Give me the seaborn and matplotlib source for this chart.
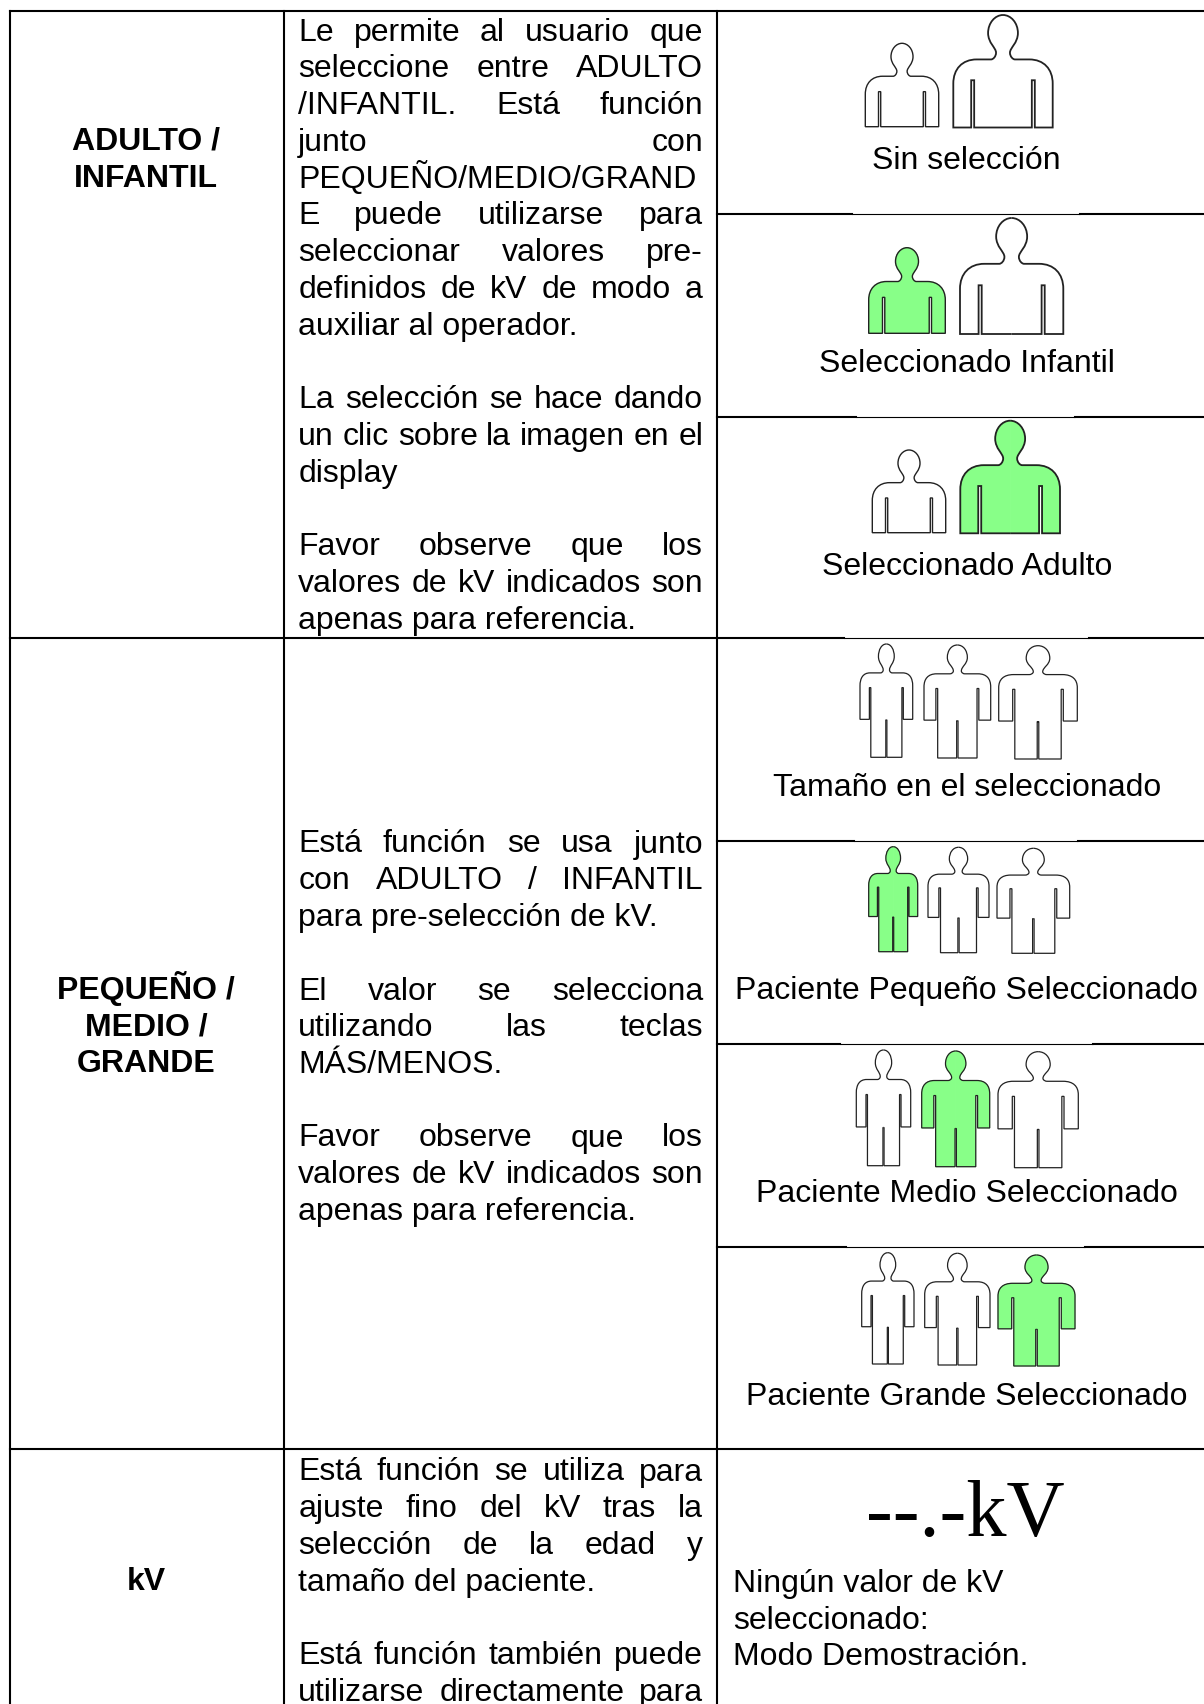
import matplotlib
matplotlib.use("Agg")
import matplotlib.pyplot as plt
import pandas as pd
import seaborn as sns
from matplotlib.patches import PathPatch
from matplotlib.path import Path

# table content
row_titles = [["ADULTO /", "INFANTIL"], ["PEQUEÑO /", "MEDIO /", "GRANDE"], ["kV"]]
row1_lines = ["Le permite al usuario que", "seleccione entre ADULTO", "/INFANTIL. Está función",
              "junto con", "PEQUEÑO/MEDIO/GRAND", "E puede utilizarse para",
              "seleccionar valores pre-", "definidos de kV de modo a", "auxiliar al operador.", None,
              "La selección se hace dando", "un clic sobre la imagen en el", "display", None,
              "Favor observe que los", "valores de kV indicados son", "apenas para referencia."]
row2_lines = ["Está función se usa junto", "con ADULTO / INFANTIL", "para pre-selección de kV.", None,
              "El valor se selecciona", "utilizando las teclas", "MÁS/MENOS.", None,
              "Favor observe que los", "valores de kV indicados son", "apenas para referencia."]
row3_lines = ["Está función se utiliza para", "ajuste fino del kV tras la", "selección de la edad y",
              "tamaño del paciente.", None, "Está función también puede", "utilizarse directamente para"]
not_justified = {"PEQUEÑO/MEDIO/GRAND", "auxiliar al operador.", "display", "apenas para referencia.",
                 "para pre-selección de kV.", "MÁS/MENOS.", "tamaño del paciente."}
captions = ["Sin selección", "Seleccionado Infantil", "Seleccionado Adulto", "Tamaño en el seleccionado",
            "Paciente Pequeño Seleccionado", "Paciente Medio Seleccionado", "Paciente Grande Seleccionado"]
caption_y = [169, 372, 575, 796, 999, 1202, 1405]
demo_lines = ["Ningún valor de kV", "seleccionado:", "Modo Demostración."]

# icon boxes: x0, y0, x1, y1, selected
bust_icons = [(865.3, 43.3, 938.7, 126.7, False), (953.3, 15, 1052.7, 127.5, False),
              (868.7, 247.7, 945.3, 333.3, True), (960, 218, 1063.3, 334, False),
              (872.3, 450, 945.7, 532.7, False), (960.3, 420.7, 1060, 533.3, True)]
body_icons = [(860, 644, 912.7, 757.3, False), (924, 645, 990.7, 758, False), (998.7, 645.7, 1077.3, 759, False),
              (868.7, 846.7, 917.7, 951.7, True), (928, 847.3, 989, 952.7, False), (997, 848.3, 1069.7, 953.3, False),
              (856.3, 1050, 910.7, 1165.7, False), (921.7, 1051, 989.7, 1166.7, True), (998, 1051.7, 1078.3, 1167.7, False),
              (861.7, 1252.7, 914, 1364, False), (924.7, 1253.3, 990, 1365, False), (998, 1255, 1075, 1366, True)]

# half outlines, head top down to the bottom centre
C4 = Path.CURVE4
L = Path.LINETO
bust_half = [((0.5, 0), Path.MOVETO),
             ((0.42, 0), C4), ((0.35, 0.07), C4), ((0.35, 0.16), C4),
             ((0.35, 0.25), C4), ((0.43, 0.29), C4), ((0.43, 0.335), C4),
             ((0.43, 0.37), C4), ((0.40, 0.395), C4), ((0.38, 0.395), C4),
             ((0.235, 0.395), L),
             ((0.09, 0.395), C4), ((0, 0.48), C4), ((0, 0.61), C4),
             ((0, 1), L), ((0.18, 1), L), ((0.18, 0.58), L), ((0.21, 0.58), L),
             ((0.21, 1), L), ((0.5, 1), L)]
body_half = [((0.5, 0), Path.MOVETO),
             ((0.41, 0), C4), ((0.35, 0.05), C4), ((0.35, 0.11), C4),
             ((0.35, 0.17), C4), ((0.44, 0.19), C4), ((0.44, 0.23), C4),
             ((0.44, 0.245), C4), ((0.41, 0.255), C4), ((0.39, 0.255), C4),
             ((0.19, 0.255), L),
             ((0.06, 0.255), C4), ((0, 0.30), C4), ((0, 0.37), C4),
             ((0, 0.665), L), ((0.178, 0.665), L), ((0.178, 0.385), L), ((0.205, 0.385), L),
             ((0.205, 1), L), ((0.49, 1), L), ((0.49, 0.67), L), ((0.5, 0.67), L)]

GREEN = "#88ff88"
W, H = 1204, 1704
FONT = "Liberation Sans"
SIZE = 23
LINE = 36.75
TEXT_L, TEXT_R = 298.3, 703

sns.set_theme(style="white")
plt.rcParams["font.family"] = [FONT, "DejaVu Sans"]

fig = plt.figure(figsize=(W / 100, H / 100), dpi=100)
ax = fig.add_axes([0, 0, 1, 1])

# table rules
thick = [(10, 11, 1204, 11), (10, 11, 10, H), (284, 11, 284, H), (717, 11, 717, H),
         (10, 637.5, 844, 637.5), (1089, 637.5, W, 637.5), (10, 1449, W, 1449),
         (717, 213.5, 852, 213.5), (1080, 213.5, W, 213.5),
         (717, 417, 856, 417), (1075, 417, W, 417),
         (717, 841, 854, 841), (1078, 841, W, 841),
         (717, 1044, 840, 1044), (1093, 1044, W, 1044),
         (717, 1246.5, 846, 1246.5), (1085, 1246.5, W, 1246.5)]
thin = [(852, 213.5, 1080, 213.5), (856, 417, 1075, 417), (844, 637.5, 1089, 637.5),
        (854, 841, 1078, 841), (840, 1044, 1093, 1044), (846, 1246.5, 1085, 1246.5)]


def rules_frame(segments):
    rows = []
    for i, (x0, y0, x1, y1) in enumerate(segments):
        rows.append({"x": x0, "y": y0, "seg": i})
        rows.append({"x": x1, "y": y1, "seg": i})
    return pd.DataFrame(rows)


sns.lineplot(data=rules_frame(thick), x="x", y="y", units="seg", estimator=None, sort=False,
             color="black", linewidth=1.5, solid_capstyle="projecting", legend=False, ax=ax)
sns.lineplot(data=rules_frame(thin), x="x", y="y", units="seg", estimator=None, sort=False,
             color="black", linewidth=0.8, legend=False, ax=ax)

ax.set_xlim(0, W)
ax.set_ylim(H, 0)
ax.set_xlabel("")
ax.set_ylabel("")
ax.axis("off")

renderer = fig.canvas.get_renderer()


def text_width(s, **kw):
    t = ax.text(0, 0, s, fontsize=SIZE, **kw)
    w = t.get_window_extent(renderer).width
    t.remove()
    return w


def draw_lines(lines, y0):
    for n, line in enumerate(lines):
        if line is None:
            continue
        y = y0 + n * LINE
        words = line.split(" ")
        if line in not_justified or len(words) == 1:
            ax.text(TEXT_L, y, line, fontsize=SIZE, color="black", va="baseline")
            continue
        widths = [text_width(w) for w in words]
        gap = (TEXT_R - TEXT_L - sum(widths)) / (len(words) - 1)
        x = TEXT_L
        for w, ww in zip(words, widths):
            ax.text(x, y, w, fontsize=SIZE, color="black", va="baseline")
            x += ww + gap


draw_lines(row1_lines, 40.7)
draw_lines(row2_lines, 852.5)
draw_lines(row3_lines, 1480.5)

for lines, y0 in zip(row_titles, [150, 998.5, 1590]):
    for n, s in enumerate(lines):
        ax.text(146, y0 + n * 37, s, fontsize=SIZE, fontweight="bold", color="black", ha="center", va="baseline")

for s, y in zip(captions, caption_y):
    ax.text(966.7, y, s, fontsize=SIZE, color="black", ha="center", va="baseline")

ax.text(965.5, 1536, "--.-kV", fontsize=58, family="Liberation Serif", color="black", ha="center", va="baseline")
for n, s in enumerate(demo_lines):
    ax.text(733, 1592.3 + n * 36.4, s, fontsize=SIZE, color="black", va="baseline")


def draw_icon(half, box, lw):
    x0, y0, x1, y1, selected = box
    for mirror in (False, True):
        verts = []
        for (u, v), _ in half:
            u = 1 - u if mirror else u
            verts.append((x0 + u * (x1 - x0), y0 + v * (y1 - y0)))
        codes = [c for _, c in half]
        if selected:
            # green edge hides the seam between the two halves
            fill = Path(verts + [verts[0]], codes + [Path.CLOSEPOLY])
            ax.add_patch(PathPatch(fill, facecolor=GREEN, edgecolor=GREEN, linewidth=0.6, zorder=3))
        ax.add_patch(PathPatch(Path(verts, codes), facecolor="none", edgecolor="#222222", linewidth=lw, zorder=4))


for box in bust_icons:
    draw_icon(bust_half, box, 1.3 if box[2] - box[0] > 85 else 1.0)
for box in body_icons:
    draw_icon(body_half, box, 0.9)

fig.savefig("out.png", dpi=100, facecolor="white")
